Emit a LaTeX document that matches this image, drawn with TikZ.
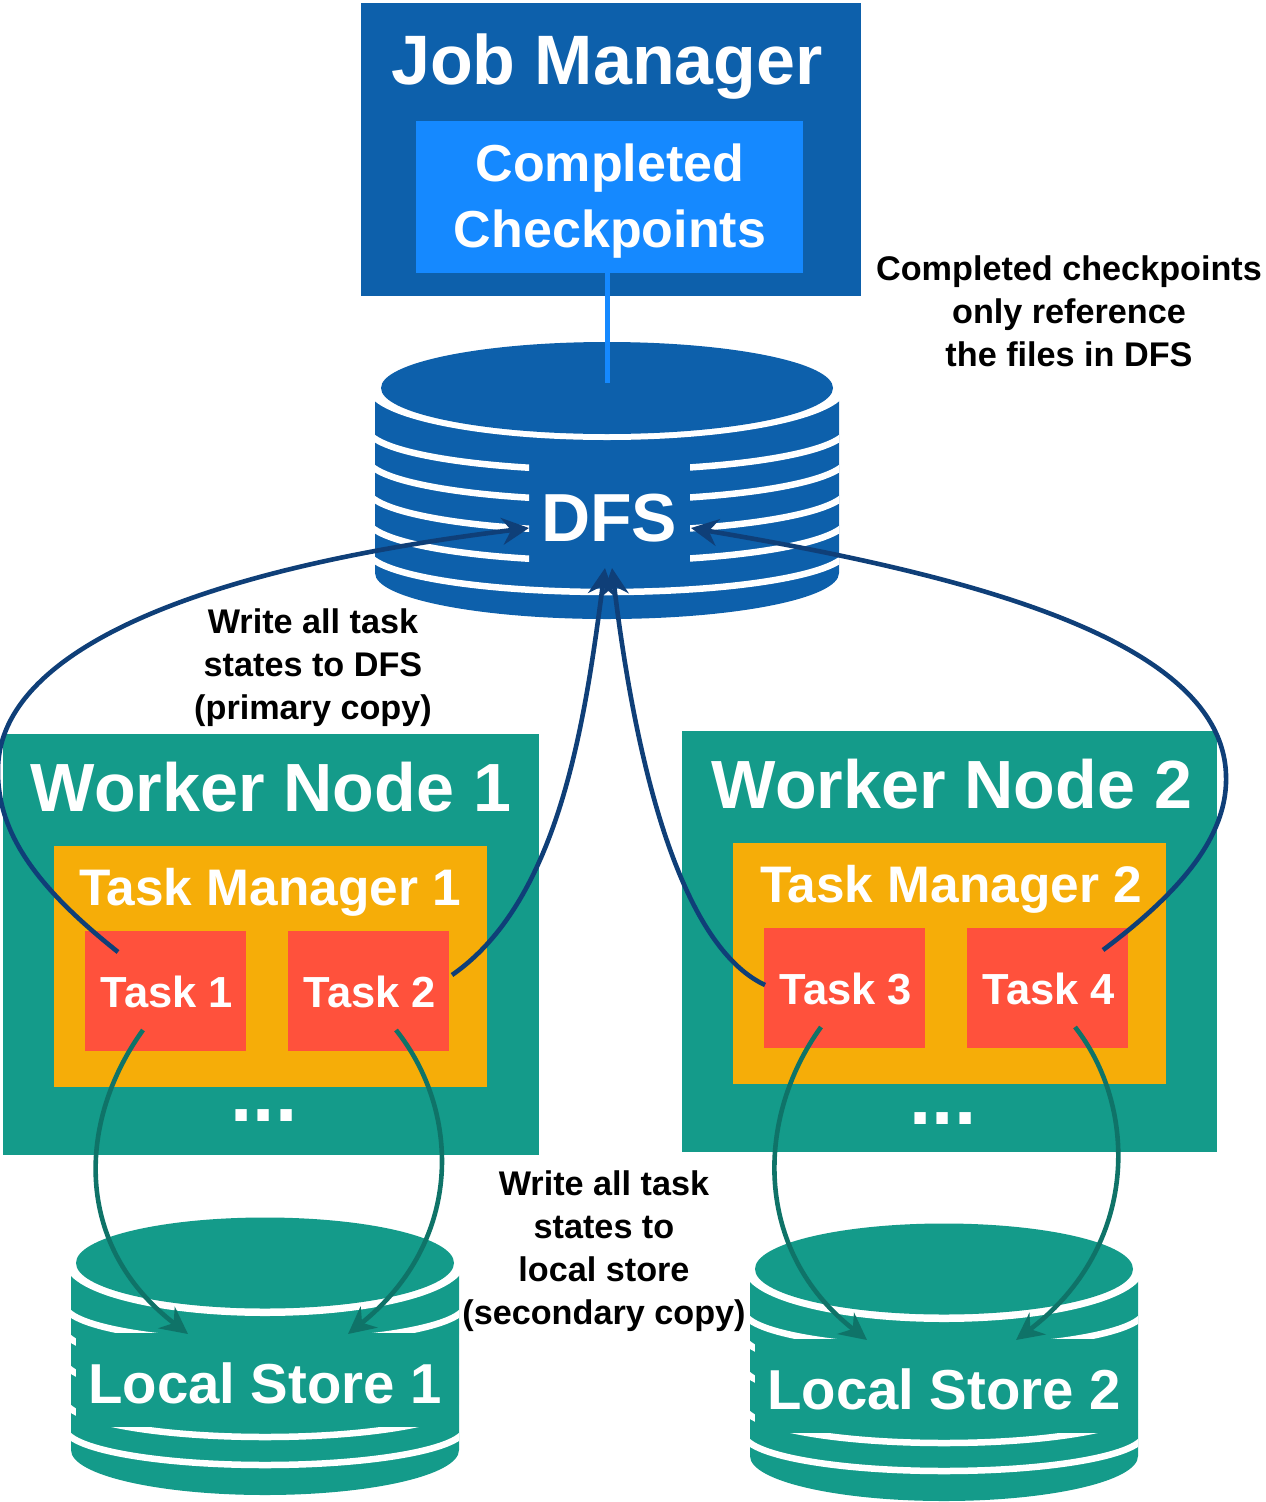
\documentclass[tikz,border=0pt]{standalone}
\usepackage{fontspec}
\setmainfont{Liberation Sans}
\usetikzlibrary{arrows.meta,calc}
\definecolor{jmblue}{HTML}{0D60AB}
\definecolor{cpblue}{HTML}{1589FF}
\definecolor{wgreen}{HTML}{149B8A}
\definecolor{tmgold}{HTML}{F6AD08}
\definecolor{taskred}{HTML}{FF513C}
\definecolor{navyline}{HTML}{0F3F78}
\definecolor{tealline}{HTML}{0F7368}
\newcommand{\fsz}[1]{\fontsize{#1}{#1}\selectfont\bfseries}
\tikzset{
  x=1pt,y=-1pt,
  box/.style={inner sep=0pt,outer sep=0pt,anchor=north west},
  title/.style={text=white,inner sep=0pt,anchor=base},
  note/.style={text=black,align=center,inner sep=0pt,font=\fontsize{34.2}{43}\selectfont\bfseries},
  toDfs/.style={navyline,line width=4.6pt,-{Stealth[length=27pt,width=27pt,inset=9pt]}},
  toLocal/.style={tealline,line width=4.6pt,-{Stealth[length=27pt,width=27pt,inset=9pt]}},
  band/.style={white,line width=6.5pt},
}
\newcommand{\localstore}[4]{%
  \begin{scope}[shift={(#1,#2)}]
    \fill[wgreen] (71,1263) -- (71,1450) arc[start angle=180,end angle=360,x radius=194pt,y radius=45pt] -- (459,1263) -- cycle;
    \fill[white] (265,1263) ellipse[x radius=200pt,y radius=53pt];
    \fill[wgreen] (265,1263) ellipse[x radius=189pt,y radius=45.5pt];
    \begin{scope}
      \clip (71,1270) rectangle (459,1490);
      \foreach \c in {1305,1330,1361,1400,1428}
        \draw[band] (65,\c) arc[start angle=180,end angle=360,x radius=200pt,y radius=37pt];
    \end{scope}
    \fill[wgreen] (76,1333) rectangle (459,1427);
    \node[title,font=\fsz{56.3}] (#3) at (265,1403) {#4};
  \end{scope}}
\begin{document}
\begin{tikzpicture}
\useasboundingbox (0,0) rectangle (1266,1502);
% Job manager
\node[box,fill=jmblue,minimum width=500pt,minimum height=293pt] (jm) at (361,3) {};
\node[title,font=\fsz{70}] (jmt) at (607,84) {Job Manager};
\node[box,fill=cpblue,minimum width=387pt,minimum height=152pt] (cp) at (416,121) {};
\node[title,align=center,font=\fontsize{52}{66}\selectfont\bfseries,anchor=center] (cpt) at (610,201) {Completed\\Checkpoints};
% DFS
\fill[jmblue] (375,388) -- (375,573) arc[start angle=180,end angle=360,x radius=232pt,y radius=46pt] -- (839,388) -- cycle;
\fill[white] (607,388) ellipse[x radius=240pt,y radius=52pt];
\fill[jmblue] (607,388) ellipse[x radius=226pt,y radius=46pt];
\begin{scope}
  \clip (375,395) rectangle (529,600) (690,395) rectangle (839,600);
  \foreach \c in {428,458,489,519}
    \draw[band] (367,\c) arc[start angle=180,end angle=360,x radius=240pt,y radius=42pt];
\end{scope}
\begin{scope}
  \clip (375,395) rectangle (839,600);
  \draw[band] (367,550) arc[start angle=180,end angle=360,x radius=240pt,y radius=42pt];
\end{scope}
\node[title,font=\fsz{68}] (dfs) at (609,541) {DFS};
\coordinate (dfsin) at (607,383);
\draw[cpblue,line width=5pt] (cp.south -| dfsin) -- (dfsin);
% Workers
\node[box,fill=wgreen,minimum width=536pt,minimum height=421pt] (w1) at (3,734) {};
\node[box,fill=wgreen,minimum width=535pt,minimum height=421pt] (w2) at (682,731) {};
\node[title,font=\fsz{68.2}] (w1t) at (271,811) {Worker Node 1};
\node[title,font=\fsz{68.2}] (w2t) at (952,808) {Worker Node 2};
\node[box,fill=tmgold,minimum width=433pt,minimum height=241pt] (tm1) at (54,846) {};
\node[box,fill=tmgold,minimum width=433pt,minimum height=241pt] (tm2) at (733,843) {};
\node[title,font=\fsz{51.4}] (tm1t) at (270,905) {Task Manager 1};
\node[title,font=\fsz{51.4}] (tm2t) at (951,902) {Task Manager 2};
\foreach \n/\x/\y/\l in {t1/85/931/Task 1,t2/288/931/Task 2,t3/764/928/Task 3,t4/967/928/Task 4}{
  \node[box,fill=taskred,minimum width=161pt,minimum height=120pt] (\n) at (\x,\y) {};
  \node[title,font=\fsz{43.5}] (\n l) at (\x+82,\y+76) {\l};
}
\node[title,font=\fsz{80}] (d1) at (264,1121) {...};
\node[title,font=\fsz{80}] (d2) at (943,1124) {...};
% Local stores
\localstore{0}{0}{ls1}{Local Store 1}
\localstore{679}{6}{ls2}{Local Store 2}
% Connector ends
\coordinate (a1) at ($(t1.north west)+(33,21)$);
\coordinate (a2) at ($(t2.north east)+(3,44)$);
\coordinate (a3) at ($(t3.north west)+(1,57)$);
\coordinate (a4) at ($(t4.north west)+(136,22)$);
\coordinate (b1) at ($(t1.south west)+(58,-21)$);
\coordinate (b2) at ($(t2.south west)+(108,-21)$);
\coordinate (b3) at ($(t3.south west)+(57,-21)$);
\coordinate (b4) at ($(t4.south west)+(108,-21)$);
\coordinate (dl) at (529,528);
\coordinate (dr) at (691,528);
\coordinate (dbl) at (605,568);
\coordinate (dbr) at (612,568);
\coordinate (s1l) at (188,1334);
\coordinate (s1r) at (348,1334);
\coordinate (s2l) at (867,1340);
\coordinate (s2r) at (1016,1340);
% Blue connectors
\draw[toDfs] (a1) .. controls (40,890) and (-3,835) .. (-2,770) .. controls (-2,660) and (170,572) .. (dl);
\draw[toDfs] (a2) .. controls (560,900) and (585,720) .. (dbl);
\draw[toDfs] (a3) .. controls (690,950) and (640,800) .. (dbr);
\draw[toDfs] (a4) .. controls (1190,885) and (1228,830) .. (1226,775) .. controls (1222,640) and (970,575) .. (dr);
% Green connectors
\draw[toLocal] (b1) .. controls (78,1120) and (72,1245) .. (s1l);
\draw[toLocal] (b2) .. controls (460,1110) and (465,1240) .. (s1r);
\draw[toLocal] (b3) .. controls (756,1117) and (752,1250) .. (s2l);
\draw[toLocal] (b4) .. controls (1138,1107) and (1140,1246) .. (s2r);
% Notes
\node[note] (n1) at (1069,311.5) {Completed checkpoints\\only reference\\the files in DFS};
\node[note] (n2) at (313,668) {Write all task\\states to DFS\\(primary copy)};
\node[note] (n3) at (604,1251) {Write all task\\states to\\local store\\(secondary copy)};
\end{tikzpicture}
\end{document}
